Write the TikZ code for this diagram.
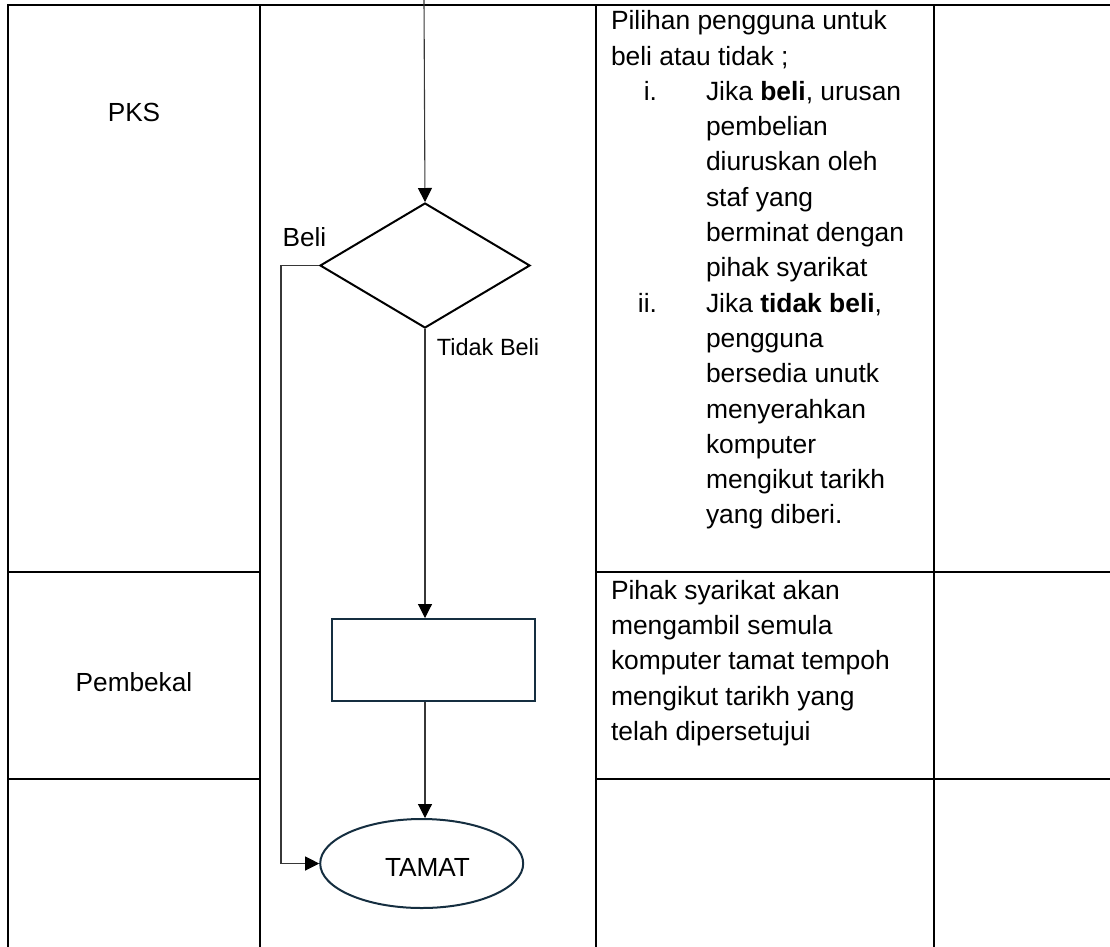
\documentclass[tikz,border=0pt]{standalone}
\usepackage{fontspec}
\setmainfont{Liberation Sans}
\usetikzlibrary{shapes.geometric,arrows.meta}
\definecolor{navy}{RGB}{21,46,64}
\definecolor{connc}{RGB}{55,55,55}
\newcommand{\numitem}[1]{\makebox[46pt][r]{#1}\hspace*{49pt}}
\newcommand{\lineind}{\hspace*{95pt}}
\begin{document}
\begin{tikzpicture}[x=1pt,y=-1pt,
  grid/.style={line width=2pt, draw=black},
  conn/.style={line width=1.1pt, draw=connc, -{Triangle[length=14pt,width=14pt,color=black]}},
  desc/.style={inner sep=0pt, outer sep=0pt, align=left, font=\fontsize{26.4}{35.3}\selectfont},
  lbl/.style={inner sep=0pt, font=\fontsize{26.2}{31}\selectfont},
  lblsmall/.style={inner sep=0pt, font=\fontsize{23.5}{28}\selectfont},
  decision/.style={diamond, draw=black, line width=2pt, minimum width=210pt, minimum height=125pt, inner sep=0pt},
  process/.style={rectangle, draw=navy, line width=2pt, minimum width=203pt, minimum height=82pt, inner sep=0pt},
  terminal/.style={ellipse, draw=navy, line width=2pt, minimum width=203pt, minimum height=89pt, inner sep=0pt,
    font=\fontsize{26.2}{31}\selectfont, text height=26.4pt, text depth=0pt}
]
\useasboundingbox (0,0) rectangle (1110,946);

% table grid
\draw[grid] (7.7,952) -- (7.7,4.7) -- (1116,4.7);
\draw[grid] (260,4.7) -- (260,952);
\draw[grid] (595.7,4.7) -- (595.7,952);
\draw[grid] (933.7,4.7) -- (933.7,952);
\draw[grid] (7.7,571.5) -- (260,571.5);
\draw[grid] (595.7,571.5) -- (1116,571.5);
\draw[grid] (7.7,779) -- (260,779);
\draw[grid] (595.7,779) -- (1116,779);

% lane labels
\node[lbl, anchor=base] (pks) at (134,121.5) {PKS};
\node[lbl, anchor=base] (pembekal) at (134,691) {Pembekal};

% flowchart
\node[decision] (dia) at (425,265.5) {};
\node[process] (box) at (433.5,660) {};
\node[terminal] (end) at (421.7,863.5) {\hspace*{11.6pt}TAMAT};

\coordinate (src) at (424,0);
\draw[conn] (src) -- (dia.north);
\draw[conn] (dia.south) -- (dia.south |- box.north);
\draw[conn] (box.south -| dia.south) -- (dia.south |- end.north);
\draw[conn] (dia.west) -- ++(-38,0) |- (end.west);

\node[lbl, anchor=base west] (beli) at (282.4,246.7) {Beli};
\node[lblsmall, anchor=base west] (tidak) at (436.7,355.7) {Tidak Beli};

% descriptions
\node[desc, anchor=north west] (d1) at (611,10.6) {Pilihan pengguna untuk\\
beli atau tidak ;\\
\numitem{i.}Jika \textbf{beli}, urusan\\
\lineind pembelian\\
\lineind diuruskan oleh\\
\lineind staf yang\\
\lineind berminat dengan\\
\lineind pihak syarikat\\
\numitem{ii.}Jika \textbf{tidak beli},\\
\lineind pengguna\\
\lineind bersedia unutk\\
\lineind menyerahkan\\
\lineind komputer\\
\lineind mengikut tarikh\\
\lineind yang diberi.};

\node[desc, anchor=north west] (d2) at (611,580.1) {Pihak syarikat akan\\
mengambil semula\\
komputer tamat tempoh\\
mengikut tarikh yang\\
telah dipersetujui};
\end{tikzpicture}
\end{document}
